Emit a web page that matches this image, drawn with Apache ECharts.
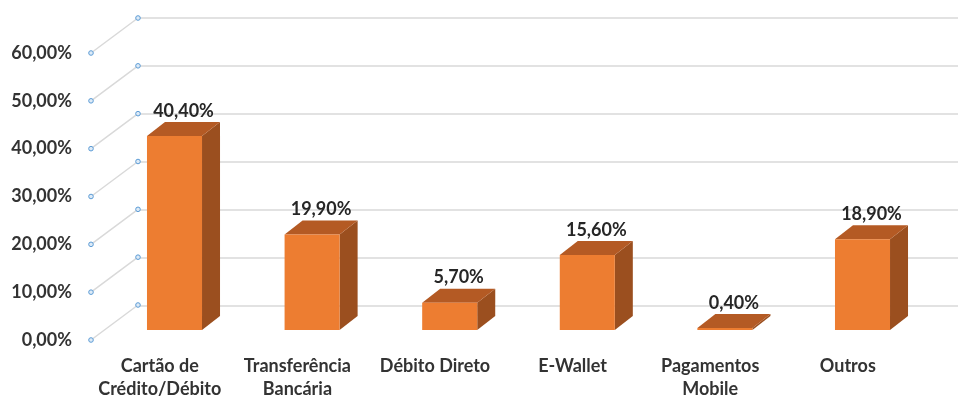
<!DOCTYPE html>
<html>
<head>
<meta charset="utf-8">
<script src="https://cdn.jsdelivr.net/npm/echarts@6/dist/echarts.min.js"></script>
<style>
  html, body { margin: 0; padding: 0; background: #fff; }
  #chart { width: 958px; height: 401px; }
</style>
</head>
<body>
<div id="chart"></div>
<script>
const categories = ['Cartão de\nCrédito/Débito', 'Transferência\nBancária', 'Débito Direto', 'E-Wallet', 'Pagamentos\nMobile', 'Outros']
const values = [40.4, 19.9, 5.7, 15.6, 0.4, 18.9]
const ticks = [0, 10, 20, 30, 40, 50, 60]

const font = 'Lato, "Open Sans", sans-serif'
const depthX = 47, depthY = -35   // floor/wall depth
const barDx = 18, barDy = -14     // bar depth

const fmt = v => v.toFixed(2).replace('.', ',') + '%'

const chart = echarts.init(document.getElementById('chart'))

const yBase = { type: 'value', min: 0, max: 60, interval: 10 }

const option = {
  animation: false,
  grid: [
    { left: 91, width: 825.6, top: 53, height: 288 },   // front plane (labels)
    { left: 138, right: 0, top: 18, height: 288 },      // back wall
    { left: 105.7, width: 825.6, top: 42, height: 288 } // bar plane
  ],
  xAxis: [
    {
      gridIndex: 0, type: 'category', data: categories,
      axisLine: { show: false }, axisTick: { show: false },
      axisLabel: { margin: 15, color: '#333', fontFamily: font, fontSize: 18, fontWeight: 'bold', lineHeight: 23, interval: 0 }
    },
    { gridIndex: 1, type: 'category', data: categories, show: false },
    { gridIndex: 2, type: 'category', data: categories, show: false }
  ],
  yAxis: [
    Object.assign({}, yBase, {
      gridIndex: 0,
      axisLine: { show: false }, axisTick: { show: false }, splitLine: { show: false },
      axisLabel: { margin: 19, color: '#333', fontFamily: font, fontSize: 18, fontWeight: 'bold', formatter: v => fmt(v) }
    }),
    Object.assign({}, yBase, {
      gridIndex: 1,
      axisLine: { show: false }, axisTick: { show: false }, axisLabel: { show: false },
      splitLine: { lineStyle: { color: '#d9d9d9', width: 1.5 } }
    }),
    Object.assign({}, yBase, { gridIndex: 2, show: false })
  ],
  series: [
    {
      // side wall lines from front ticks to back wall
      type: 'custom',
      xAxisIndex: 0, yAxisIndex: 0,
      data: ticks.map(t => [0, t]),
      silent: true,
      renderItem: function (params, api) {
        const y = api.coord([0, api.value(1)])[1]
        const x = params.coordSys.x
        const dot = (cx, cy) => ({
          type: 'circle', shape: { cx: cx, cy: cy, r: 2.3 },
          style: { fill: '#deebf7', stroke: '#5b9bd5', lineWidth: 1 }, z2: 2
        })
        return {
          type: 'group',
          children: [
            { type: 'line', shape: { x1: x, y1: y, x2: x + depthX, y2: y + depthY }, style: { stroke: '#d9d9d9', lineWidth: 1.5 } },
            dot(x, y),
            dot(x + depthX, y + depthY)
          ]
        }
      }
    },
    {
      type: 'custom',
      xAxisIndex: 2, yAxisIndex: 2,
      data: values.map((v, i) => [i, v]),
      silent: true,
      z: 5,
      renderItem: function (params, api) {
        const i = api.value(0), v = api.value(1)
        const top = api.coord([i, v])
        const bottom = api.coord([i, 0])
        const w = api.size([1, 0])[0] * 0.4
        const x0 = top[0] - w / 2, x1 = top[0] + w / 2
        const yt = top[1], yb = bottom[1]
        return {
          type: 'group',
          children: [
            { type: 'polygon', shape: { points: [[x1, yt], [x1 + barDx, yt + barDy], [x1 + barDx, yb + barDy], [x1, yb]] }, style: { fill: '#9b4f1f' } },
            { type: 'polygon', shape: { points: [[x0, yt], [x0 + barDx, yt + barDy], [x1 + barDx, yt + barDy], [x1, yt]] }, style: { fill: '#b45a24' } },
            { type: 'rect', shape: { x: x0, y: yt, width: w, height: yb - yt }, style: { fill: '#ed7d31' } },
            {
              type: 'text',
              style: {
                x: top[0] + barDx / 2, y: yt + barDy - 2,
                text: fmt(v), align: 'center', verticalAlign: 'bottom',
                fill: '#262626', font: 'bold 18px ' + font
              }
            }
          ]
        }
      }
    }
  ]
}

chart.setOption(option)
</script>
</body>
</html>
